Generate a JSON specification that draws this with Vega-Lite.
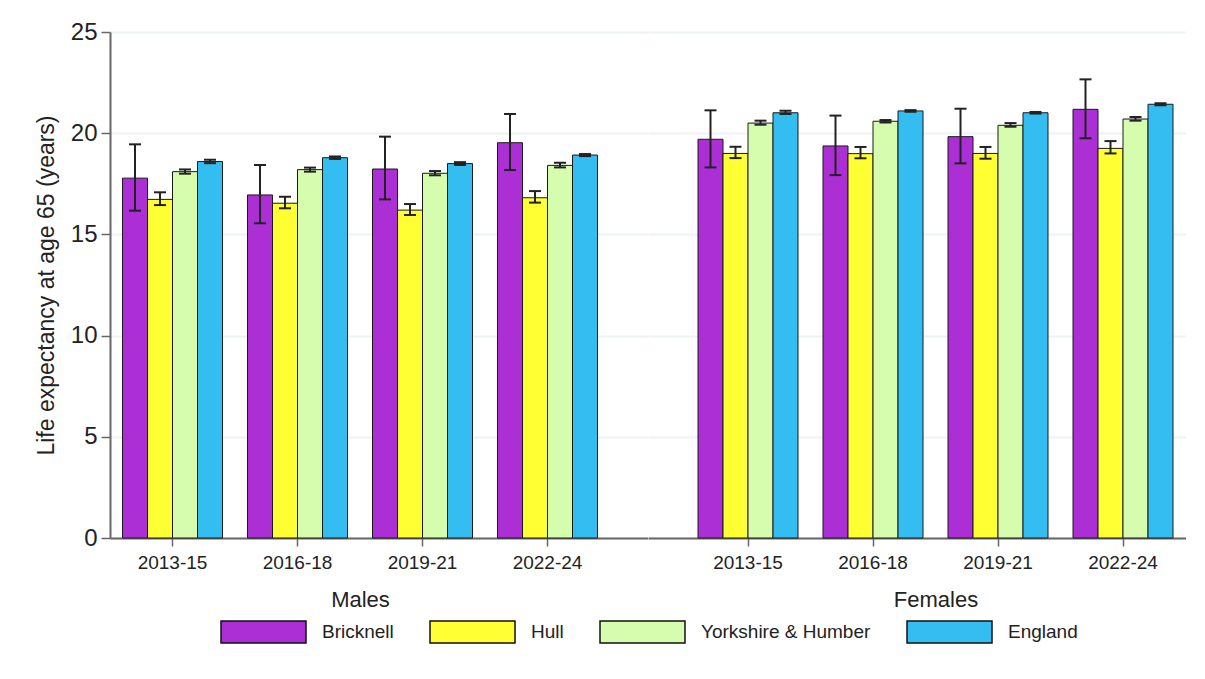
{
  "$schema": "https://vega.github.io/schema/vega-lite/v6.json",
  "background": "white",
  "padding": {"left": 35, "top": 20, "right": 5, "bottom": 5},
  "spacing": 0,
  "config": {
    "font": "Liberation Sans",
    "view": {"stroke": null},
    "axis": {"labelColor": "#222", "titleColor": "#222", "titleFontWeight": "normal"}
  },
  "data": {
    "values": [
      {"sex": "Males", "period": "2013-15", "area": "Bricknell", "value": 17.78, "lo": 16.17, "hi": 19.45},
      {"sex": "Males", "period": "2013-15", "area": "Hull", "value": 16.73, "lo": 16.45, "hi": 17.08},
      {"sex": "Males", "period": "2013-15", "area": "Yorkshire & Humber", "value": 18.1, "lo": 18.0, "hi": 18.21},
      {"sex": "Males", "period": "2013-15", "area": "England", "value": 18.6, "lo": 18.52, "hi": 18.69},
      {"sex": "Males", "period": "2016-18", "area": "Bricknell", "value": 16.95, "lo": 15.55, "hi": 18.43},
      {"sex": "Males", "period": "2016-18", "area": "Hull", "value": 16.54, "lo": 16.29, "hi": 16.86},
      {"sex": "Males", "period": "2016-18", "area": "Yorkshire & Humber", "value": 18.2, "lo": 18.1, "hi": 18.3},
      {"sex": "Males", "period": "2016-18", "area": "England", "value": 18.79, "lo": 18.73, "hi": 18.85},
      {"sex": "Males", "period": "2019-21", "area": "Bricknell", "value": 18.23, "lo": 16.73, "hi": 19.83},
      {"sex": "Males", "period": "2019-21", "area": "Hull", "value": 16.2, "lo": 15.96, "hi": 16.5},
      {"sex": "Males", "period": "2019-21", "area": "Yorkshire & Humber", "value": 18.02, "lo": 17.92, "hi": 18.13},
      {"sex": "Males", "period": "2019-21", "area": "England", "value": 18.5, "lo": 18.43, "hi": 18.57},
      {"sex": "Males", "period": "2022-24", "area": "Bricknell", "value": 19.53, "lo": 18.18, "hi": 20.95},
      {"sex": "Males", "period": "2022-24", "area": "Hull", "value": 16.81, "lo": 16.57, "hi": 17.14},
      {"sex": "Males", "period": "2022-24", "area": "Yorkshire & Humber", "value": 18.41, "lo": 18.31, "hi": 18.54},
      {"sex": "Males", "period": "2022-24", "area": "England", "value": 18.92, "lo": 18.87, "hi": 18.97},
      {"sex": "Females", "period": "2013-15", "area": "Bricknell", "value": 19.7, "lo": 18.31, "hi": 21.13},
      {"sex": "Females", "period": "2013-15", "area": "Hull", "value": 19.0, "lo": 18.77, "hi": 19.33},
      {"sex": "Females", "period": "2013-15", "area": "Yorkshire & Humber", "value": 20.5, "lo": 20.42, "hi": 20.62},
      {"sex": "Females", "period": "2013-15", "area": "England", "value": 21.01, "lo": 20.95, "hi": 21.11},
      {"sex": "Females", "period": "2016-18", "area": "Bricknell", "value": 19.37, "lo": 17.93, "hi": 20.87},
      {"sex": "Females", "period": "2016-18", "area": "Hull", "value": 18.99, "lo": 18.76, "hi": 19.32},
      {"sex": "Females", "period": "2016-18", "area": "Yorkshire & Humber", "value": 20.59, "lo": 20.53, "hi": 20.65},
      {"sex": "Females", "period": "2016-18", "area": "England", "value": 21.1, "lo": 21.06, "hi": 21.14},
      {"sex": "Females", "period": "2019-21", "area": "Bricknell", "value": 19.83, "lo": 18.51, "hi": 21.21},
      {"sex": "Females", "period": "2019-21", "area": "Hull", "value": 19.0, "lo": 18.74, "hi": 19.32},
      {"sex": "Females", "period": "2019-21", "area": "Yorkshire & Humber", "value": 20.39, "lo": 20.32, "hi": 20.5},
      {"sex": "Females", "period": "2019-21", "area": "England", "value": 21.01, "lo": 20.97, "hi": 21.05},
      {"sex": "Females", "period": "2022-24", "area": "Bricknell", "value": 21.18, "lo": 19.75, "hi": 22.66},
      {"sex": "Females", "period": "2022-24", "area": "Hull", "value": 19.25, "lo": 19.0, "hi": 19.61},
      {"sex": "Females", "period": "2022-24", "area": "Yorkshire & Humber", "value": 20.7, "lo": 20.62, "hi": 20.8},
      {"sex": "Females", "period": "2022-24", "area": "England", "value": 21.43, "lo": 21.38, "hi": 21.48}
    ]
  },
  "resolve": {"scale": {"x": "independent"}},
  "hconcat": [
    {
      "width": 537.5,
      "height": 506,
      "transform": [{"filter": "datum.sex === 'Males'"}],
      "encoding": {
        "x": {
          "field": "period", "type": "nominal", "sort": ["2013-15", "2016-18", "2019-21", "2022-24"],
          "scale": {"paddingInner": 0.2, "paddingOuter": 0.25, "align": 0.2},
          "axis": {"title": "Males", "titleX": 250, "labelAngle": 0, "labelFontSize": 19, "labelPadding": 7, "titleFontSize": 22, "titlePadding": 17, "tickSize": 8, "tickColor": "#666", "tickWidth": 1.5, "domainColor": "#666", "domainWidth": 2}
        },
        "xOffset": {"field": "area", "type": "nominal", "sort": ["Bricknell", "Hull", "Yorkshire & Humber", "England"], "scale": {"paddingInner": 0, "paddingOuter": 0}},
        "y": {
          "field": "value", "type": "quantitative",
          "scale": {"domain": [0, 25], "nice": false},
          "axis": {"title": "Life expectancy at age 65 (years)", "values": [0, 5, 10, 15, 20, 25], "labelFontSize": 24, "titleFontSize": 23, "titlePadding": 12, "labelPadding": 4, "tickSize": 9, "tickColor": "#666", "tickWidth": 1.5, "domainColor": "#666", "domainWidth": 2, "grid": true, "gridColor": "#edf2f3", "gridWidth": 2}
        }
      },
      "layer": [
        {
          "mark": {"type": "bar", "stroke": "#1a1a1a", "strokeWidth": 1},
          "encoding": {
            "color": {
              "field": "area", "type": "nominal",
              "sort": ["Bricknell", "Hull", "Yorkshire & Humber", "England"],
              "scale": {"domain": ["Bricknell", "Hull", "Yorkshire & Humber", "England"], "range": ["#ac2fd6", "#ffff33", "#d6fdae", "#33bdf0"]},
              "legend": {"title": null, "orient": "none", "legendX": 110, "legendY": 588, "direction": "horizontal", "symbolType": "M-1,-0.26L1,-0.26L1,0.26L-1,0.26Z", "symbolSize": 7225, "clipHeight": 24, "symbolStrokeColor": "#111", "symbolStrokeWidth": 1.5, "symbolOpacity": 1, "labelFontSize": 19, "labelColor": "#222", "labelOffset": 15, "labelLimit": 0, "columnPadding": 35}
            }
          }
        },
        {
          "mark": {"type": "rule", "color": "#222", "strokeWidth": 2},
          "encoding": {"y": {"field": "lo", "type": "quantitative"}, "y2": {"field": "hi"}}
        },
        {
          "mark": {"type": "tick", "color": "#222", "opacity": 1, "thickness": 2, "size": 12},
          "encoding": {"y": {"field": "lo", "type": "quantitative"}}
        },
        {
          "mark": {"type": "tick", "color": "#222", "opacity": 1, "thickness": 2, "size": 12},
          "encoding": {"y": {"field": "hi", "type": "quantitative"}}
        }
      ]
    },
    {
      "width": 537.5,
      "height": 506,
      "transform": [{"filter": "datum.sex === 'Females'"}],
      "encoding": {
        "x": {
          "field": "period", "type": "nominal", "sort": ["2013-15", "2016-18", "2019-21", "2022-24"],
          "scale": {"paddingInner": 0.2, "paddingOuter": 0.25, "align": 0.8},
          "axis": {"title": "Females", "titleX": 287.5, "labelAngle": 0, "labelFontSize": 19, "labelPadding": 7, "titleFontSize": 22, "titlePadding": 17, "tickSize": 8, "tickColor": "#666", "tickWidth": 1.5, "domainColor": "#666", "domainWidth": 2}
        },
        "xOffset": {"field": "area", "type": "nominal", "sort": ["Bricknell", "Hull", "Yorkshire & Humber", "England"], "scale": {"paddingInner": 0, "paddingOuter": 0}},
        "y": {
          "field": "value", "type": "quantitative",
          "scale": {"domain": [0, 25], "nice": false},
          "axis": {"title": null, "values": [0, 5, 10, 15, 20, 25], "labels": false, "ticks": false, "domain": false, "grid": true, "gridColor": "#edf2f3", "gridWidth": 2}
        }
      },
      "layer": [
        {
          "mark": {"type": "bar", "stroke": "#1a1a1a", "strokeWidth": 1},
          "encoding": {
            "color": {
              "field": "area", "type": "nominal",
              "sort": ["Bricknell", "Hull", "Yorkshire & Humber", "England"],
              "scale": {"domain": ["Bricknell", "Hull", "Yorkshire & Humber", "England"], "range": ["#ac2fd6", "#ffff33", "#d6fdae", "#33bdf0"]},
              "legend": {"title": null, "orient": "none", "legendX": 110, "legendY": 588, "direction": "horizontal", "symbolType": "M-1,-0.26L1,-0.26L1,0.26L-1,0.26Z", "symbolSize": 7225, "clipHeight": 24, "symbolStrokeColor": "#111", "symbolStrokeWidth": 1.5, "symbolOpacity": 1, "labelFontSize": 19, "labelColor": "#222", "labelOffset": 15, "labelLimit": 0, "columnPadding": 35}
            }
          }
        },
        {
          "mark": {"type": "rule", "color": "#222", "strokeWidth": 2},
          "encoding": {"y": {"field": "lo", "type": "quantitative"}, "y2": {"field": "hi"}}
        },
        {
          "mark": {"type": "tick", "color": "#222", "opacity": 1, "thickness": 2, "size": 12},
          "encoding": {"y": {"field": "lo", "type": "quantitative"}}
        },
        {
          "mark": {"type": "tick", "color": "#222", "opacity": 1, "thickness": 2, "size": 12},
          "encoding": {"y": {"field": "hi", "type": "quantitative"}}
        }
      ]
    }
  ]
}
